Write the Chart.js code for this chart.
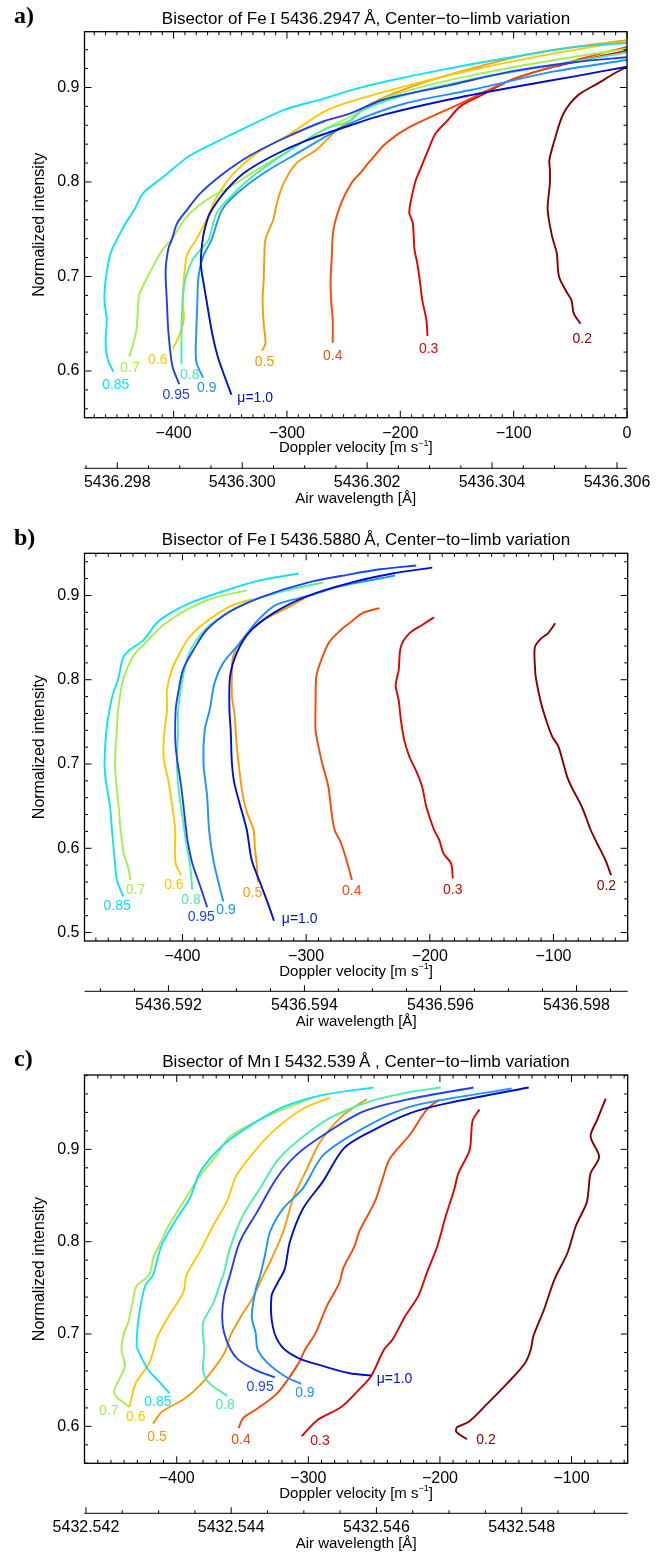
<!DOCTYPE html>
<html>
<head>
<meta charset="utf-8">
<script src="https://cdn.jsdelivr.net/npm/chart.js@4.4.1/dist/chart.umd.min.js"></script>
<style>
  body { margin: 0; background: #fff; }
  #wrap { position: relative; width: 667px; height: 1553px; }
  canvas { position: absolute; left: 0; }
</style>
</head>
<body>
<div id="wrap">
  <canvas id="chart-a" width="667" height="510" style="top:0px"></canvas>
  <canvas id="chart-b" width="667" height="520" style="top:510px"></canvas>
  <canvas id="chart-c" width="667" height="523" style="top:1030px"></canvas>
</div>
<script>
// mu values, same order in every panel
const muLabels = ['\u03bc=1.0', '0.95', '0.9', '0.85', '0.8', '0.7', '0.6', '0.5', '0.4', '0.3', '0.2'];
const muColors = ['#0010c8', '#1c40f0', '#1a92ff', '#10e2f4', '#48f0a8', '#a2f04c', '#ffc800', '#ff9800', '#ff4600', '#e40000', '#870000'];

// ---- panel a: Fe I 5436.2947, points are [velocity m/s, normalized intensity]
const aMu10 = [[-349,0.575],[-354,0.591],[-361,0.615],[-366,0.640],[-371,0.675],[-373,0.689],[-376,0.714],[-374,0.742],[-371,0.757],[-368,0.767],[-356,0.788],[-338.5,0.809],[-312,0.828],[-282.5,0.844],[-244,0.860],[-215,0.871],[-158,0.887],[-102,0.900],[-45,0.912],[0,0.922]];
const aMu095 = [[-395,0.586],[-401,0.605],[-404.5,0.640],[-406,0.675],[-407,0.707],[-404.5,0.730],[-401.5,0.739],[-397,0.756],[-388.5,0.770],[-376.5,0.788],[-356,0.809],[-332.5,0.828],[-303,0.846],[-268,0.864],[-244,0.8725],[-215,0.887],[-158,0.902],[-102,0.917],[-45,0.927],[0,0.932]];
const aMu09 = [[-374,0.593],[-380,0.610],[-380,0.640],[-379,0.675],[-378,0.700],[-374,0.721],[-366.5,0.739],[-357.5,0.770],[-344,0.788],[-321,0.809],[-291.5,0.830],[-244,0.862],[-196,0.883],[-139,0.897],[-64,0.917],[0,0.929]];
const aMu085 = [[-453,0.599],[-458,0.612],[-460,0.629],[-459,0.654],[-461,0.675],[-460,0.696],[-457,0.718],[-454.5,0.728],[-450,0.739],[-444,0.753],[-434,0.772],[-427,0.788],[-409,0.8055],[-385.5,0.828],[-356,0.846],[-303,0.876],[-268,0.888],[-244,0.897],[-214,0.906],[-158,0.920],[-102,0.932],[-45,0.943],[0,0.947]];
const aMu08 = [[-393,0.607],[-393,0.640],[-392,0.675],[-389,0.700],[-383,0.718],[-375,0.730],[-369,0.739],[-362,0.767],[-347,0.788],[-327,0.809],[-297,0.834],[-268,0.855],[-244,0.865],[-233,0.876],[-196,0.892],[-139,0.908],[-64,0.924],[0,0.937]];
const aMu07 = [[-439,0.615],[-433,0.642],[-431,0.675],[-430,0.682],[-421,0.704],[-410,0.728],[-402,0.739],[-388.5,0.763],[-371,0.781],[-350,0.795],[-327,0.8126],[-297,0.834],[-268,0.855],[-244,0.869],[-214.5,0.888],[-177,0.902],[-120,0.917],[-64,0.929],[0,0.941]];
const aMu06 = [[-401,0.623],[-396,0.6345],[-391,0.654],[-392,0.675],[-391,0.696],[-388,0.723],[-380,0.739],[-371,0.760],[-362,0.784],[-347,0.809],[-327,0.830],[-297,0.851],[-268,0.874],[-244,0.885],[-192,0.9025],[-139,0.918],[-64,0.936],[0,0.949]];
const aMu05 = [[-322,0.6215],[-319,0.629],[-320.5,0.650],[-321.5,0.675],[-320.5,0.696],[-320,0.718],[-319,0.739],[-312,0.760],[-309,0.777],[-303,0.7985],[-291.5,0.820],[-274,0.834],[-256,0.855],[-244,0.865],[-233,0.878],[-203,0.895],[-158,0.913],[-83,0.936],[0,0.950]];
const aMu04 = [[-259.6,0.630],[-259.6,0.654],[-261,0.675],[-261.5,0.696],[-260.4,0.721],[-259,0.7495],[-252,0.778],[-243,0.799],[-235,0.810],[-226,0.823],[-212.6,0.841],[-192,0.858],[-147,0.883],[-102,0.908],[-45,0.929],[0,0.943]];
const aMu03 = [[-176,0.637],[-177,0.654],[-180.6,0.675],[-182.5,0.693],[-185,0.714],[-187.4,0.728],[-189,0.7565],[-192,0.767],[-191,0.778],[-186.3,0.802],[-182.5,0.813],[-175,0.835],[-169,0.851],[-158,0.8655],[-147,0.880],[-128,0.892],[-102,0.908],[-64,0.922],[0,0.939]];
const aMu02 = [[-41,0.650],[-47,0.661],[-49,0.675],[-53,0.683],[-60,0.700],[-62,0.725],[-66,0.742],[-70,0.771],[-68,0.799],[-68,0.813],[-68.5,0.823],[-64,0.844],[-56,0.8725],[-43,0.892],[-26,0.904],[-11,0.915],[0,0.922]];
const aLabelV = [-328, -397.7, -370.7, -451, -385.7, -438.4, -413.9, -319.8, -259.6, -175, -39.5];
const aLabelI = [0.571, 0.574, 0.582, 0.585, 0.596, 0.603, 0.612, 0.609, 0.616, 0.623, 0.634];
const aVelTicks = [-400, -300, -200, -100, 0];
const aIntTicks = [0.6, 0.7, 0.8, 0.9];
const aWaveTicks = [5436.298, 5436.300, 5436.302, 5436.304, 5436.306];

// ---- panel b: Fe I 5436.5880
const bMu10 = [[-326,0.514],[-330,0.531],[-337,0.5585],[-344,0.586],[-348,0.622],[-353,0.649],[-358,0.677],[-360,0.701],[-361,0.7405],[-362,0.764],[-361.5,0.804],[-356,0.832],[-345.5,0.857],[-326.5,0.879],[-299.5,0.899],[-264.5,0.915],[-230,0.926],[-198,0.933]];
const bMu095 = [[-380,0.530],[-385.5,0.5545],[-392,0.582],[-396,0.610],[-397,0.622],[-401,0.673],[-405.5,0.7206],[-405.5,0.764],[-403.5,0.784],[-399.5,0.812],[-391,0.8355],[-380.5,0.859],[-361.5,0.881],[-334.5,0.899],[-299.5,0.915],[-264.5,0.925],[-240,0.931],[-211,0.9355]];
const bMu09 = [[-367,0.537],[-370,0.5545],[-375,0.586],[-378.5,0.622],[-380,0.661],[-383,0.701],[-382,0.7405],[-378,0.764],[-374,0.796],[-367,0.820],[-353.5,0.8435],[-340,0.869],[-324,0.889],[-299,0.899],[-272,0.911],[-228,0.9235]];
const bMu085 = [[-448,0.543],[-453,0.5625],[-455,0.590],[-457,0.622],[-458.5,0.649],[-462,0.681],[-463,0.701],[-461.5,0.7405],[-459,0.764],[-456,0.784],[-452,0.800],[-448,0.826],[-442.5,0.8355],[-431.5,0.847],[-421,0.867],[-410,0.879],[-394,0.891],[-367,0.905],[-340,0.917],[-306,0.926]];
const bMu08 = [[-392,0.5506],[-394,0.582],[-397.5,0.610],[-398.5,0.622],[-403,0.669],[-404.5,0.701],[-403.5,0.7405],[-403.5,0.764],[-400.5,0.796],[-396.5,0.8236],[-388.5,0.8474],[-372.5,0.871],[-345.5,0.893],[-313,0.907],[-286,0.9155]];
const bMu07 = [[-442,0.5625],[-444,0.578],[-447.5,0.594],[-450,0.622],[-451.5,0.649],[-454.5,0.697],[-453,0.7405],[-452,0.764],[-448,0.800],[-440,0.8276],[-431.5,0.8414],[-415.5,0.865],[-394,0.885],[-375,0.897],[-348,0.906]];
const bMu06 = [[-401,0.568],[-405.5,0.582],[-406,0.606],[-406,0.625],[-411.5,0.681],[-415,0.705],[-415,0.7325],[-412.5,0.764],[-412.5,0.788],[-408.5,0.812],[-402,0.832],[-394,0.851],[-380.5,0.869],[-361.5,0.887],[-343,0.896]];
const bMu05 = [[-339,0.5605],[-340,0.582],[-341.5,0.602],[-342.5,0.622],[-347.5,0.641],[-351,0.661],[-354,0.693],[-356,0.7206],[-358,0.760],[-360,0.780],[-360,0.804],[-359,0.828],[-350,0.851],[-334,0.871],[-313,0.887],[-298.5,0.899]];
const bMu04 = [[-263,0.5625],[-266.6,0.582],[-271.7,0.606],[-277,0.622],[-280,0.649],[-282,0.673],[-287,0.701],[-290,0.7206],[-292.4,0.7405],[-292.4,0.768],[-292,0.800],[-290.7,0.811],[-282,0.843],[-272,0.859],[-265,0.867],[-254.5,0.879],[-240.7,0.885]];
const bMu03 = [[-181.4,0.5644],[-182.8,0.582],[-189,0.594],[-192.4,0.610],[-196.6,0.622],[-202.8,0.649],[-206.2,0.673],[-211.4,0.693],[-216.6,0.709],[-220.7,0.7286],[-223.4,0.7524],[-225.2,0.776],[-227.6,0.792],[-226.9,0.800],[-225.2,0.811],[-223.4,0.839],[-216.6,0.855],[-206.2,0.865],[-196.6,0.874]];
const bMu02 = [[-53.4,0.568],[-58,0.586],[-64.8,0.606],[-70,0.622],[-77,0.649],[-85.5,0.673],[-89,0.685],[-96,0.7206],[-101,0.7325],[-106,0.7524],[-110,0.772],[-114,0.800],[-115,0.815],[-115,0.839],[-110,0.849],[-104.5,0.855],[-98.6,0.867]];
const bLabelV = [-305.2, -384.8, -364.8, -452.8, -393.1, -438, -406.9, -343.4, -263.1, -181.4, -57.2];
const bLabelI = [0.5158, 0.518, 0.5269, 0.5308, 0.538, 0.5506, 0.5565, 0.5466, 0.5486, 0.5506, 0.5545];
const bVelTicks = [-400, -300, -200, -100];
const bIntTicks = [0.5, 0.6, 0.7, 0.8, 0.9];
const bWaveTicks = [5436.592, 5436.594, 5436.596, 5436.598];

// ---- panel c: Mn I 5432.539
const cMu10 = [[-252,0.655],[-268.5,0.6575],[-288,0.665],[-307.5,0.674],[-320.5,0.687],[-327,0.708],[-328,0.741],[-323.5,0.755],[-318,0.770],[-314,0.800],[-304,0.836],[-289,0.865],[-273,0.901],[-253,0.919],[-223,0.939],[-194,0.950],[-132.5,0.967]];
const cMu095 = [[-325.5,0.653],[-340,0.661],[-353,0.672],[-359,0.683],[-364,0.701],[-365.5,0.719],[-364,0.741],[-359.5,0.764],[-352,0.800],[-339,0.832],[-324,0.869],[-309,0.894],[-288.5,0.9155],[-258,0.941],[-223,0.9545],[-174.5,0.967]];
const cMu09 = [[-305.5,0.646],[-317.5,0.654],[-330.5,0.668],[-338.5,0.683],[-340,0.701],[-343,0.719],[-340,0.748],[-336.5,0.764],[-333,0.785],[-329,0.811],[-319,0.836],[-304,0.858],[-288.5,0.894],[-258,0.923],[-223,0.946],[-145.5,0.966]];
const cMu085 = [[-405.5,0.636],[-412.5,0.647],[-422.5,0.663],[-429.5,0.683],[-430.5,0.687],[-429,0.717],[-424,0.752],[-418,0.764],[-411.5,0.796],[-400,0.825],[-390,0.847],[-382,0.876],[-364.5,0.905],[-344,0.926],[-319,0.946],[-288.5,0.959],[-250.5,0.967]];
const cMu08 = [[-361.5,0.633],[-375.5,0.647],[-380,0.661],[-379,0.683],[-380,0.712],[-372,0.734],[-366,0.759],[-364.5,0.764],[-359.5,0.793],[-349.5,0.829],[-336.5,0.858],[-324,0.887],[-309,0.908],[-283.5,0.934],[-253,0.952],[-223,0.962],[-199.5,0.967]];
const cMu07 = [[-436,0.621],[-447.5,0.636],[-439.5,0.665],[-442,0.683],[-440,0.701],[-437,0.712],[-433.5,0.734],[-430.5,0.752],[-421,0.764],[-417.5,0.784],[-411,0.8025],[-407.5,0.814],[-395,0.843],[-382,0.872],[-369.5,0.894],[-359.5,0.914],[-326.5,0.939],[-295,0.957]];
const cMu06 = [[-436,0.621],[-431,0.647],[-421,0.668],[-417.5,0.683],[-414.5,0.6975],[-404.5,0.723],[-395,0.745],[-392.5,0.764],[-382.5,0.789],[-372,0.818],[-362,0.843],[-354.5,0.872],[-339,0.901],[-324,0.923],[-304,0.944],[-283.5,0.956]];
const cMu05 = [[-418,0.603],[-411,0.616],[-395,0.629],[-382,0.645],[-369,0.668],[-362.5,0.683],[-359.5,0.6975],[-349.5,0.723],[-343,0.737],[-334,0.764],[-329,0.778],[-319,0.811],[-311.5,0.847],[-301,0.879],[-291,0.908],[-273.5,0.937],[-255.5,0.9545]];
const cMu04 = [[-353,0.598],[-349.5,0.609],[-340,0.618],[-323.5,0.636],[-307.5,0.668],[-302.5,0.683],[-294.5,0.701],[-286,0.730],[-276.5,0.755],[-273.5,0.771],[-265,0.795],[-261,0.812],[-249.5,0.843],[-244,0.866],[-238,0.890],[-223,0.9155],[-210,0.943],[-200.5,0.954]];
const cMu03 = [[-305,0.5895],[-293,0.607],[-275,0.621],[-262,0.639],[-252.5,0.654],[-242.5,0.683],[-236,0.694],[-226.5,0.719],[-216.5,0.741],[-210,0.766],[-202,0.795],[-195.5,0.828],[-190.5,0.850],[-189,0.857],[-186,0.874],[-177.5,0.899],[-176,0.921],[-175,0.932],[-170,0.943]];
const cMu02 = [[-179.5,0.586],[-187.5,0.594],[-187,0.599],[-178,0.605],[-165,0.623],[-148.5,0.647],[-135.5,0.668],[-131,0.683],[-129,0.6975],[-121,0.726],[-113,0.759],[-103,0.788],[-96.7,0.817],[-88.5,0.842],[-87,0.857],[-85.5,0.874],[-79,0.892],[-85.5,0.914],[-80.5,0.932],[-74,0.955]];
const cLabelV = [-234.5, -336.7, -302.6, -414.3, -363.2, -451.6, -431.2, -415, -351.2, -291.1, -165];
const cLabelI = [0.651, 0.643, 0.6358, 0.6267, 0.623, 0.617, 0.6105, 0.588, 0.5852, 0.5845, 0.5852];
const cVelTicks = [-400, -300, -200, -100];
const cIntTicks = [0.6, 0.7, 0.8, 0.9];
const cWaveTicks = [5432.542, 5432.544, 5432.546, 5432.548];

const FONT = "'Liberation Sans', Arial, sans-serif";
const SERIF = "'Liberation Serif', 'Times New Roman', serif";

// draw a row of text pieces with their own fonts, centred on cx
function drawRuns(ctx, runs, cx, cy) {
  let total = 0;
  runs.forEach(r => { ctx.font = r[1]; total += ctx.measureText(r[0]).width; });
  let sx = cx - total / 2;
  ctx.textAlign = 'left';
  runs.forEach(r => {
    ctx.font = r[1];
    ctx.fillText(r[0], sx, cy + (r[2] || 0));
    sx += ctx.measureText(r[0]).width;
  });
}

// draws the box, inward ticks, the wavelength axis and all texts
function framePlugin(p) {
  return {
    id: 'frame',
    afterDraw(chart) {
      const ctx = chart.ctx;
      const { left, right, top, bottom } = chart.chartArea;
      const x = chart.scales.x, y = chart.scales.y, xw = chart.scales.xw;
      ctx.save();
      ctx.strokeStyle = '#000';
      ctx.lineWidth = 1.3;
      ctx.strokeRect(left, top, right - left, bottom - top);
      ctx.lineWidth = 1;
      ctx.beginPath();
      // velocity ticks, bottom and top
      for (let k = Math.ceil(x.min / 10); k <= Math.floor(x.max / 10); k++) {
        const v = k * 10;
        const len = p.vTicks.includes(v) ? 7 : 3.5;
        const px = x.getPixelForValue(v);
        ctx.moveTo(px, bottom); ctx.lineTo(px, bottom - len);
        ctx.moveTo(px, top); ctx.lineTo(px, top + len);
      }
      // intensity ticks, left and right
      for (let k = Math.ceil(y.min * 50 - 1e-6); k <= Math.floor(y.max * 50 + 1e-6); k++) {
        const v = k / 50;
        const len = p.iTicks.some(t => Math.abs(t - v) < 1e-6) ? 7 : 3.5;
        const py = y.getPixelForValue(v);
        ctx.moveTo(left, py); ctx.lineTo(left + len, py);
        ctx.moveTo(right, py); ctx.lineTo(right - len, py);
      }
      // wavelength axis line with upward ticks
      const wy = xw.top;
      ctx.moveTo(left, wy); ctx.lineTo(right, wy);
      for (let k = Math.ceil(xw.min / 0.0005 - 1e-6); k <= Math.floor(xw.max / 0.0005 + 1e-6); k++) {
        const v = k * 0.0005;
        const len = p.wTicks.some(t => Math.abs(t - v) < 1e-7) ? 6 : 3;
        const px = xw.getPixelForValue(v);
        ctx.moveTo(px, wy); ctx.lineTo(px, wy - len);
      }
      ctx.stroke();

      // curve labels
      ctx.font = '14px ' + FONT;
      ctx.textAlign = 'center';
      ctx.textBaseline = 'middle';
      p.labelV.forEach((v, i) => {
        ctx.fillStyle = muColors[i];
        ctx.fillText(muLabels[i], x.getPixelForValue(v), y.getPixelForValue(p.labelI[i]));
      });

      ctx.fillStyle = '#000';
      // plot title, the ion numeral in serif
      drawRuns(ctx, [
        ['Bisector of ' + p.element, '17px ' + FONT],
        ['\u2009I', '17px ' + SERIF],
        [' ' + p.title, '17px ' + FONT]
      ], 366, top - 12.5);
      // panel letter
      ctx.font = 'bold 24px ' + SERIF;
      ctx.textAlign = 'left';
      ctx.fillText(p.letter, 14, top - 15);

      // axis titles
      const midX = (left + right) / 2;
      drawRuns(ctx, [
        ['Doppler velocity [m s', '15px ' + FONT],
        ['\u22121', '9px ' + FONT, -5],
        [']', '15px ' + FONT]
      ], midX, bottom + 30.5);
      ctx.font = '15px ' + FONT;
      ctx.textAlign = 'center';
      ctx.fillText('Air wavelength [\u00c5]', midX, wy + 30.5);

      ctx.font = '16px ' + FONT;
      ctx.translate(40, (top + bottom) / 2);
      ctx.rotate(-Math.PI / 2);
      ctx.fillText('Normalized intensity', 0, 0);
      ctx.restore();
    }
  };
}

function makePanel(id, p) {
  const datasets = p.curves.map((pts, i) => ({
    data: pts.map(q => ({ x: q[0], y: q[1] })),
    borderColor: muColors[i],
    borderWidth: 1.9,
    pointRadius: 0,
    showLine: true,
    tension: 0.3,
    fill: false
  }));
  const tickFont = { family: FONT, size: 16 };
  const minus = v => (v < 0 ? '\u2212' + Math.abs(v) : String(v));
  return new Chart(document.getElementById(id), {
    type: 'scatter',
    data: { datasets },
    options: {
      responsive: false,
      animation: false,
      layout: { padding: { top: p.padTop, right: p.padRight, left: 0, bottom: 0 } },
      plugins: { legend: { display: false }, tooltip: { enabled: false } },
      scales: {
        x: {
          type: 'linear', position: 'bottom', weight: 0,
          min: p.vMin, max: p.vMax,
          grid: { display: false, drawTicks: false }, border: { display: false },
          afterBuildTicks: ax => { ax.ticks = p.vTicks.map(v => ({ value: v })); },
          afterFit: ax => { ax.height = p.xH; },
          ticks: { font: tickFont, color: '#000', padding: 6, maxRotation: 0, autoSkip: false, callback: v => minus(v) }
        },
        xw: {
          type: 'linear', position: 'bottom', weight: 1,
          min: p.wMin, max: p.wMax,
          grid: { display: false, drawTicks: false }, border: { display: false },
          afterBuildTicks: ax => { ax.ticks = p.wTicks.map(v => ({ value: v })); },
          afterFit: ax => { ax.height = p.wH; },
          ticks: { font: tickFont, color: '#000', padding: 5, maxRotation: 0, autoSkip: false, callback: v => v.toFixed(3) }
        },
        y: {
          type: 'linear', position: 'left',
          min: p.iMin, max: p.iMax,
          grid: { display: false, drawTicks: false }, border: { display: false },
          afterBuildTicks: ax => { ax.ticks = p.iTicks.map(v => ({ value: v })); },
          afterFit: ax => { ax.width = 84.5; },
          ticks: { font: tickFont, color: '#000', padding: 5, autoSkip: false, callback: v => v.toFixed(1) }
        }
      }
    },
    plugins: [framePlugin(p)]
  });
}

makePanel('chart-a', {
  curves: [aMu10, aMu095, aMu09, aMu085, aMu08, aMu07, aMu06, aMu05, aMu04, aMu03, aMu02],
  labelV: aLabelV, labelI: aLabelI,
  vTicks: aVelTicks, iTicks: aIntTicks, wTicks: aWaveTicks,
  vMin: -478.6, vMax: 0, iMin: 0.5506, iMax: 0.959, wMin: 5436.297475, wMax: 5436.30616,
  padTop: 31.7, padRight: 40, xH: 50.6, wH: 41.7,
  element: 'Fe', title: '5436.2947\u2009\u00c5, Center\u2212to\u2212limb variation', letter: 'a)'
});

makePanel('chart-b', {
  curves: [bMu10, bMu095, bMu09, bMu085, bMu08, bMu07, bMu06, bMu05, bMu04, bMu03, bMu02],
  labelV: bLabelV, labelI: bLabelI,
  vTicks: bVelTicks, iTicks: bIntTicks, wTicks: bWaveTicks,
  vMin: -479.2, vMax: -40, iMin: 0.490, iMax: 0.950, wMin: 5436.590766, wMax: 5436.598753,
  padTop: 43.3, padRight: 39.3, xH: 50.3, wH: 38.7,
  element: 'Fe', title: '5436.5880\u2009\u00c5, Center\u2212to\u2212limb variation', letter: 'b)'
});

makePanel('chart-c', {
  curves: [cMu10, cMu095, cMu09, cMu085, cMu08, cMu07, cMu06, cMu05, cMu04, cMu03, cMu02],
  labelV: cLabelV, labelI: cLabelI,
  vTicks: cVelTicks, iTicks: cIntTicks, wTicks: cWaveTicks,
  vMin: -470.1, vMax: -57.3, iMin: 0.560, iMax: 0.9805, wMin: 5432.54198, wMax: 5432.54946,
  padTop: 45, padRight: 39.3, xH: 50, wH: 39.7,
  element: 'Mn', title: '5432.539\u2009\u00c5 , Center\u2212to\u2212limb variation', letter: 'c)'
});
</script>
</body>
</html>
